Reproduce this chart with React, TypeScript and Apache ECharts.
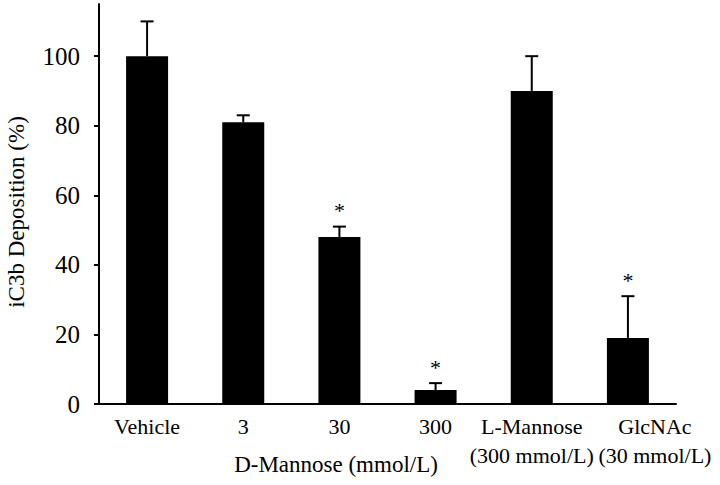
import React, { useEffect, useRef } from "react";
import * as echarts from "echarts";

const categories = ["Vehicle", "3", "30", "300", "L-Mannose\n(300 mmol/L)", "GlcNAc\n(30 mmol/L)"];
const means = [100, 81, 48, 4, 90, 19];
const errorTops = [110, 83, 51, 6, 100, 31];
const significant = [false, false, true, true, false, true];
const yTicks = [0, 20, 40, 60, 80, 100];
const xTitle = "D-Mannose (mmol/L)";
const yTitle = "iC3b Deposition (%)";

const FONT = "Liberation Serif";

export default function App() {
  const ref = useRef<HTMLDivElement>(null);
  useEffect(() => {
    if (!ref.current) return;
    const chart = echarts.init(ref.current, undefined, { renderer: "svg" });
    const errData = categories.map((c, i) => [i, means[i], errorTops[i], significant[i] ? 1 : 0]);
    chart.setOption({
      animation: false,
      backgroundColor: "#ffffff",
      grid: { left: 99, right: 44, top: 4, bottom: 81, containLabel: false },
      xAxis: {
        type: "category",
        data: categories,
        axisLine: { show: true, lineStyle: { color: "#000", width: 2 } },
        axisTick: { show: false },
        axisLabel: {
          color: "#000",
          fontFamily: FONT,
          fontSize: 22,
          lineHeight: 29,
          margin: 8,
          interval: 0,
          formatter: (value: string, idx: number) =>
            idx === categories.length - 1
              ? value.split("\n").map((l) => `{s|${l}}`).join("\n")
              : value,
          rich: {
            s: {
              fontFamily: FONT,
              fontSize: 22,
              lineHeight: 29,
              color: "#000",
              padding: [0, 0, 0, 54],
            },
          },
        },
      },
      yAxis: {
        type: "value",
        min: 0,
        max: 115,
        interval: 20,
        splitLine: { show: false },
        axisLine: { show: true, lineStyle: { color: "#000", width: 2 } },
        axisTick: {
          show: true,
          length: 5,
          inside: false,
          customValues: yTicks,
          lineStyle: { color: "#000", width: 2 },
        },
        axisLabel: {
          color: "#000",
          fontFamily: FONT,
          fontSize: 25,
          margin: 19,
          customValues: yTicks,
        },
      },
      graphic: [
        {
          type: "text",
          x: 16,
          y: 212,
          rotation: Math.PI / 2,
          style: {
            text: yTitle,
            fontFamily: FONT,
            fontSize: 23,
            fill: "#000",
            align: "center",
            verticalAlign: "middle",
          },
        },
        {
          type: "text",
          x: 336,
          y: 464,
          style: {
            text: xTitle,
            fontFamily: FONT,
            fontSize: 23,
            fill: "#000",
            align: "center",
            verticalAlign: "middle",
          },
        },
      ],
      series: [
        {
          type: "bar",
          data: means,
          barWidth: 42,
          itemStyle: { color: "#000" },
          z: 2,
        },
        {
          type: "custom",
          data: errData,
          z: 3,
          renderItem: (params: any, api: any) => {
            const idx = api.value(0);
            const p0 = api.coord([idx, api.value(1)]);
            const p1 = api.coord([idx, api.value(2)]);
            const sig = api.value(3);
            const stroke = { stroke: "#000", lineWidth: 2 };
            const children: any[] = [
              { type: "line", shape: { x1: p0[0], y1: p0[1], x2: p1[0], y2: p1[1] }, style: stroke },
              { type: "line", shape: { x1: p1[0] - 6.5, y1: p1[1], x2: p1[0] + 6.5, y2: p1[1] }, style: stroke },
            ];
            if (sig) {
              children.push({
                type: "text",
                x: p1[0],
                y: p1[1] - 5,
                style: {
                  text: "*",
                  fontFamily: FONT,
                  fontSize: 22,
                  fill: "#000",
                  align: "center",
                  verticalAlign: "bottom",
                },
              });
            }
            return { type: "group", children };
          },
        },
      ],
    });
    return () => chart.dispose();
  }, []);
  return <div ref={ref} style={{ width: 720, height: 485, position: "absolute", left: 0, top: 0 }} />;
}
